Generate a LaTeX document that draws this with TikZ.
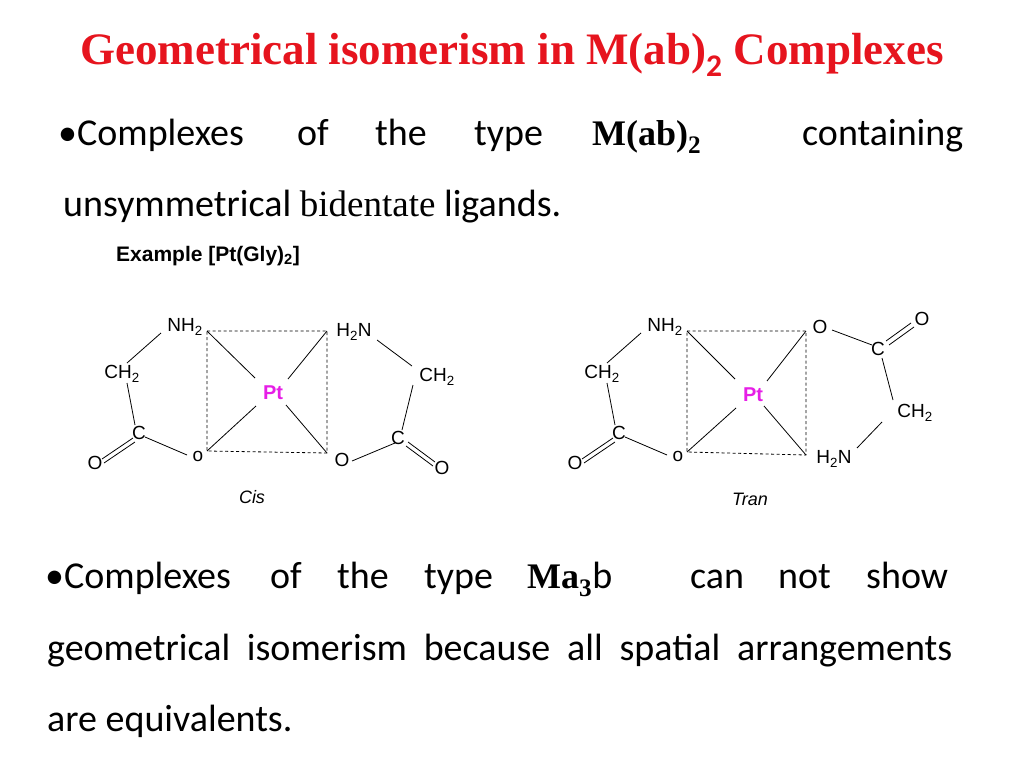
\documentclass[tikz,border=0pt]{standalone}
\usepackage{fontspec}
\setmainfont{Carlito}
\newfontfamily\ser{Liberation Serif}
\newfontfamily\ars{Liberation Sans}
\definecolor{ttl}{RGB}{230,20,30}
\definecolor{ptc}{RGB}{230,30,230}
\begin{document}
\begin{tikzpicture}[x=1pt,y=-1pt,
  w/.style={anchor=base west,inner sep=0pt,font=\fontsize{38}{40}\selectfont},
  lab/.style={inner sep=0pt,font=\ars\fontsize{19}{20}\selectfont},
  bd/.style={line width=0.8pt},
  sq/.style={dashed,line width=0.8pt,dash pattern=on 3pt off 2.5pt}]
\useasboundingbox (0,0) rectangle (1024,768);
\node[anchor=base,inner sep=0pt,text=ttl,font=\ser\bfseries\fontsize{45}{47}\selectfont] (title) at (512,64) {Geometrical isomerism in M(ab)$_{\mathbf 2}$ Complexes};
% line 1
\node[w] (a1) at (58,145) {•Complexes};
\node[w] (a2) at (297,145) {of};
\node[w] (a3) at (375,145) {the};
\node[w] (a4) at (474,145) {type};
\node[w,font=\ser\bfseries\fontsize{36}{38}\selectfont] (a5) at (592,145) {M(ab)\textsubscript{2}};
\node[w] (a6) at (802,145) {containing};
\node[w] (b1) at (63,216) {unsymmetrical {\ser\fontsize{37}{38}\selectfont bidentate} ligands.};
\node[anchor=base west,inner sep=0pt,font=\ars\bfseries\fontsize{21}{22}\selectfont] (ex) at (116,261) {Example [Pt(Gly)\textsubscript{2}]};
% cis
\begin{scope}
\node[lab] (nh) at (185,327) {NH\textsubscript{2}};
\node[lab] (ch) at (122,374) {CH\textsubscript{2}};
\node[lab] (c1) at (139,433) {C};
\node[lab] (o1) at (95,463) {O};
\node[lab] (o2) at (198,456) {o};
\node[lab] (hn) at (354,332) {H\textsubscript{2}N};
\node[lab] (ch2) at (437,377) {CH\textsubscript{2}};
\node[lab] (c2) at (398,438) {C};
\node[lab] (o3) at (342,460) {O};
\node[lab] (o4) at (442,468) {O};
\node[lab,text=ptc,font=\ars\bfseries\fontsize{20}{21}\selectfont] (pt) at (273,393) {Pt};
\node[lab,font=\ars\itshape\fontsize{18}{19}\selectfont] (cis) at (252,497) {Cis};
\coordinate (tl) at (207,331); \coordinate (tr) at (327,331);
\coordinate (bl) at (207,451); \coordinate (br) at (327,453);
\draw[sq] (tl)--(tr)--(br)--(bl)--cycle;
\draw[bd] (tl)--(255,378) (tr)--(288,379) (bl)--(256,406) (br)--(286,405);
\draw[bd] (161,333)--(127,363) (127,383)--(135,425) (145,437)--(187,455);
\draw[bd] (133,438)--(102,459) (135,442)--(104,463);
\draw[bd] (377,340)--(412,366) (413,385)--(402,430) (395,443)--(352,461);
\draw[bd] (408,442)--(435,462) (406,446)--(433,466);
\end{scope}
% trans
\begin{scope}
\node[lab] (tnh) at (665,327) {NH\textsubscript{2}};
\node[lab] (tch) at (602,374) {CH\textsubscript{2}};
\node[lab] (tc1) at (619,433) {C};
\node[lab] (to1) at (575,463) {O};
\node[lab] (to2) at (678,456) {o};
\node[lab] (to3) at (820,327) {O};
\node[lab] (to4) at (922,319) {O};
\node[lab] (tc2) at (878,349) {C};
\node[lab] (tch2) at (915,413) {CH\textsubscript{2}};
\node[lab] (thn) at (834,459) {H\textsubscript{2}N};
\node[lab,text=ptc,font=\ars\bfseries\fontsize{20}{21}\selectfont] (tpt) at (753,395) {Pt};
\node[lab,font=\ars\itshape\fontsize{18}{19}\selectfont] (tran) at (750,499) {Tran};
\coordinate (ttl) at (687,331); \coordinate (ttr) at (806,331);
\coordinate (tbl) at (687,452); \coordinate (tbr) at (806,455);
\draw[sq] (ttl)--(ttr)--(tbr)--(tbl)--cycle;
\draw[bd] (ttl)--(735,379) (ttr)--(767,381) (tbl)--(736,408) (tbr)--(764,406);
\draw[bd] (641,333)--(607,363) (607,383)--(615,425) (625,437)--(667,455);
\draw[bd] (613,438)--(582,459) (615,442)--(584,463);
\draw[bd] (832,330)--(872,345) (882,358)--(893,400) (882,422)--(857,448);
\draw[bd] (886,341)--(911,323) (889,345)--(914,327);
\end{scope}
% lower text
\node[w] (c1t) at (45,588) {•Complexes};
\node[w] (c2t) at (270,588) {of};
\node[w] (c3t) at (337,588) {the};
\node[w] (c4t) at (424,588) {type};
\node[w] (c5t) at (527,588) {{\ser\bfseries\fontsize{36}{38}\selectfont Ma\textsubscript{3}}b};
\node[w] (c6t) at (690,588) {can};
\node[w] (c7t) at (778,588) {not};
\node[w] (c8t) at (866,588) {show};
\node[w] (d1) at (47,660) {\makebox[905pt][s]{geometrical isomerism because all spatial arrangements}};
\node[w] (e1) at (47,731) {are equivalents.};
\end{tikzpicture}
\end{document}
